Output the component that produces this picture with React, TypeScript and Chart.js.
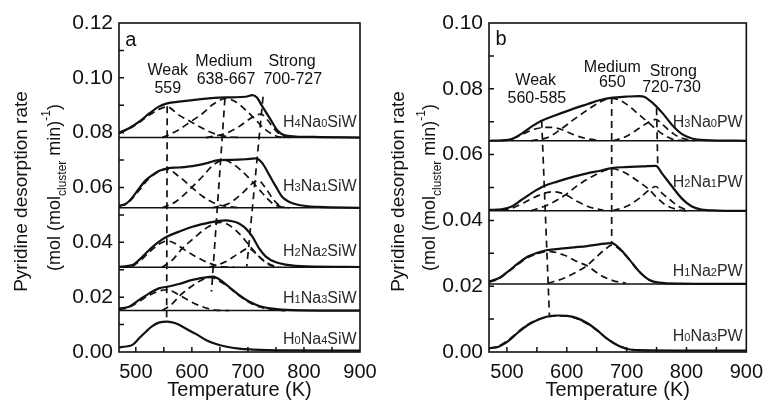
import React, { useEffect, useRef } from "react";
import { Chart, registerables } from "chart.js";

Chart.register(...registerables);

type Pt = [number, number];

const X_MIN = 470;
const X_MAX = 900;
const FONT = '"Liberation Sans", Arial, Helvetica, sans-serif';
const INK = "#111111";

// ---------------- Panel a : HxNa(4-x)SiW ----------------
const aYMax = 0.12;
const aSeparators = [0.0782, 0.0526, 0.0309, 0.0151];

const aH4Na0: Pt[] = [[470,0.0800],[488,0.0816],[506,0.0840],[524,0.0870],[541,0.0895],[556,0.0907],[577,0.0913],[601,0.0919],[625,0.0924],[648,0.0928],[672,0.0929],[696,0.0931],[708,0.0937],[716,0.0928],[726,0.0895],[741,0.0846],[752,0.0810],[764,0.0791],[785,0.0786],[830,0.0784],[900,0.0782]];
const aH4Weak: Pt[] = [[470,0.0798],[488,0.0814],[506,0.0837],[524,0.0864],[541,0.0885],[556,0.0894],[577,0.0864],[598,0.0840],[619,0.0816],[642,0.0795],[666,0.0785],[690,0.0782]];
const aH4Med: Pt[] = [[547,0.0782],[571,0.0804],[598,0.0840],[619,0.0870],[636,0.0901],[654,0.0922],[660,0.0925],[678,0.0913],[696,0.0883],[714,0.0846],[732,0.0810],[750,0.0788],[765,0.0782]];
const aH4Strong: Pt[] = [[625,0.0782],[660,0.0797],[684,0.0822],[708,0.0856],[723,0.0868],[735,0.0846],[746,0.0816],[761,0.0788],[775,0.0782]];

const aH3Na1: Pt[] = [[470,0.0534],[482,0.0540],[494,0.0564],[506,0.0597],[518,0.0627],[530,0.0646],[541,0.0660],[556,0.0670],[577,0.0673],[601,0.0678],[625,0.0688],[648,0.0700],[672,0.0701],[696,0.0703],[714,0.0706],[726,0.0688],[738,0.0646],[750,0.0603],[761,0.0566],[773,0.0548],[791,0.0536],[827,0.0529],[900,0.0526]];
const aH3Weak: Pt[] = [[470,0.0530],[488,0.0548],[506,0.0590],[524,0.0634],[541,0.0658],[556,0.0667],[577,0.0640],[598,0.0604],[619,0.0568],[642,0.0541],[666,0.0530],[690,0.0526]];
const aH3Med: Pt[] = [[547,0.0526],[571,0.0548],[598,0.0597],[619,0.0640],[636,0.0678],[651,0.0698],[657,0.0700],[672,0.0688],[690,0.0658],[708,0.0621],[726,0.0579],[744,0.0542],[761,0.0529],[773,0.0526]];
const aH3Strong: Pt[] = [[636,0.0526],[666,0.0542],[690,0.0579],[708,0.0615],[719,0.0625],[732,0.0597],[744,0.0560],[755,0.0536],[767,0.0526]];

const aH2Na2: Pt[] = [[470,0.0311],[494,0.0317],[506,0.0336],[518,0.0360],[530,0.0384],[541,0.0402],[556,0.0421],[577,0.0439],[601,0.0457],[625,0.0469],[648,0.0478],[660,0.0480],[672,0.0477],[684,0.0469],[696,0.0451],[708,0.0421],[720,0.0378],[732,0.0348],[750,0.0327],[767,0.0319],[803,0.0312],[900,0.0310]];
const aH2Weak: Pt[] = [[494,0.0312],[506,0.0330],[518,0.0352],[530,0.0375],[541,0.0393],[556,0.0405],[570,0.0396],[583,0.0378],[607,0.0348],[631,0.0324],[654,0.0311],[676,0.0309]];
const aH2Med: Pt[] = [[547,0.0309],[565,0.0335],[583,0.0378],[607,0.0421],[625,0.0451],[642,0.0469],[651,0.0473],[666,0.0463],[684,0.0433],[702,0.0390],[720,0.0348],[738,0.0321],[755,0.0310]];
const aH2Strong: Pt[] = [[631,0.0309],[660,0.0329],[684,0.0360],[701,0.0378],[714,0.0360],[726,0.0336],[738,0.0318],[750,0.0310]];

const aH1Na3: Pt[] = [[470,0.0159],[488,0.0165],[506,0.0190],[524,0.0214],[541,0.0232],[556,0.0238],[577,0.0248],[601,0.0263],[625,0.0272],[636,0.0275],[645,0.0270],[666,0.0238],[684,0.0208],[702,0.0184],[720,0.0168],[744,0.0158],[779,0.0153],[900,0.0151]];
const aH1Weak: Pt[] = [[470,0.0155],[488,0.0163],[506,0.0185],[524,0.0207],[541,0.0222],[556,0.0227],[577,0.0208],[598,0.0184],[619,0.0165],[642,0.0153],[666,0.0151]];
const aH1Med: Pt[] = [[547,0.0151],[563,0.0172],[580,0.0208],[607,0.0250],[625,0.0269],[635,0.0272],[648,0.0260],[666,0.0236],[684,0.0206],[702,0.0181],[720,0.0165],[744,0.0155],[767,0.0151]];

const aH0Na4: Pt[] = [[470,0.0017],[482,0.0020],[494,0.0026],[506,0.0050],[518,0.0074],[530,0.0095],[541,0.0107],[556,0.0111],[571,0.0105],[589,0.0086],[607,0.0066],[625,0.0044],[643,0.0029],[660,0.0020],[684,0.0012],[708,0.0009],[767,0.0006],[900,0.0005]];

const aWeakLine: Pt[] = [[556,0.0896],[555,0.0111]];
const aMedLine: Pt[] = [[659,0.0925],[635,0.0220]];
const aStrongLine: Pt[] = [[727,0.0931],[698,0.0312]];

const aNotes: [string, number, number][] = [["Weak",557,0.1028],["559",557,0.0959],["Medium",657,0.1058],["638-667",661,0.0992],["Strong",779,0.1058],["700-727",780,0.0992]];
const aCurveLabels: [string, number][] = [["H4Na0SiW",0.0843],["H3Na1SiW",0.0609],["H2Na2SiW",0.0370],["H1Na3SiW",0.0199],["H0Na4SiW",0.0052]];
const aLetter: [string, number, number] = ["a", 491, 0.1138];

// ---------------- Panel b : HxNa(3-x)PW ----------------
const bYMax = 0.10;
const bSeparators = [0.0642, 0.0429, 0.0207];

const bH3Na0: Pt[] = [[470,0.0642],[491,0.0643],[508,0.0647],[524,0.0663],[541,0.0685],[557,0.0702],[579,0.0718],[606,0.0736],[634,0.0753],[656,0.0766],[677,0.0773],[699,0.0776],[721,0.0778],[729,0.0776],[743,0.0758],[760,0.0726],[776,0.0690],[792,0.0663],[809,0.0649],[831,0.0644],[900,0.0642]];
const bH3Weak: Pt[] = [[491,0.0642],[508,0.0648],[524,0.0660],[541,0.0674],[558,0.0682],[574,0.0683],[590,0.0677],[612,0.0660],[634,0.0648],[656,0.0643]];
const bH3Med: Pt[] = [[540,0.0642],[568,0.0652],[590,0.0677],[612,0.0707],[634,0.0735],[656,0.0760],[674,0.0771],[688,0.0766],[705,0.0746],[721,0.0721],[738,0.0695],[754,0.0670],[776,0.0647],[798,0.0642]];
const bH3Strong: Pt[] = [[677,0.0642],[699,0.0655],[721,0.0680],[738,0.0700],[749,0.0707],[759,0.0693],[770,0.0675],[781,0.0660],[798,0.0647],[814,0.0642]];

const bH2Na1: Pt[] = [[470,0.0432],[491,0.0434],[508,0.0442],[524,0.0462],[541,0.0483],[563,0.0505],[584,0.0518],[612,0.0533],[634,0.0543],[656,0.0551],[675,0.0559],[699,0.0562],[727,0.0564],[749,0.0566],[759,0.0543],[776,0.0503],[792,0.0467],[809,0.0442],[825,0.0433],[852,0.0430],[900,0.0429]];
const bH2Weak: Pt[] = [[491,0.0431],[508,0.0437],[524,0.0450],[541,0.0466],[562,0.0482],[579,0.0487],[598,0.0478],[617,0.0458],[639,0.0440],[661,0.0431]];
const bH2Med: Pt[] = [[540,0.0429],[568,0.0447],[598,0.0478],[617,0.0505],[639,0.0530],[661,0.0550],[675,0.0557],[694,0.0548],[716,0.0523],[738,0.0493],[749,0.0472],[765,0.0447],[787,0.0432],[800,0.0429]];
const bH2Strong: Pt[] = [[677,0.0430],[699,0.0442],[721,0.0467],[738,0.0493],[749,0.0503],[759,0.0483],[773,0.0462],[787,0.0442],[803,0.0430]];

const bH1Na2: Pt[] = [[470,0.0214],[486,0.0224],[502,0.0245],[519,0.0270],[535,0.0290],[552,0.0302],[568,0.0310],[590,0.0314],[612,0.0318],[634,0.0322],[656,0.0328],[675,0.0331],[688,0.0315],[705,0.0280],[721,0.0245],[738,0.0219],[754,0.0211],[790,0.0208],[900,0.0207]];
const bH1Weak: Pt[] = [[470,0.0212],[486,0.0222],[502,0.0243],[519,0.0267],[535,0.0287],[552,0.0299],[568,0.0306],[595,0.0295],[617,0.0275],[634,0.0262],[656,0.0234],[677,0.0217],[699,0.0209]];
const bH1Med: Pt[] = [[568,0.0209],[595,0.0224],[617,0.0244],[634,0.0263],[650,0.0290],[666,0.0315],[675,0.0325],[688,0.0312],[705,0.0280],[721,0.0244],[738,0.0219],[754,0.0209]];

const bH0Na3: Pt[] = [[470,0.0012],[486,0.0016],[502,0.0033],[519,0.0060],[535,0.0082],[552,0.0098],[568,0.0108],[584,0.0111],[601,0.0110],[617,0.0103],[634,0.0088],[650,0.0067],[666,0.0042],[683,0.0022],[699,0.0010],[721,0.0006],[900,0.0004]];
const bH0Fit: Pt[] = [[470,0.0010],[486,0.0018],[502,0.0036],[519,0.0062],[535,0.0084],[552,0.0099],[568,0.0107],[584,0.0110],[601,0.0109],[617,0.0101],[634,0.0086],[650,0.0066],[666,0.0043],[683,0.0023],[699,0.0011],[721,0.0005],[740,0.0004]];

const bWeakLine: Pt[] = [[558,0.0703],[571,0.0110]];
const bMedLine: Pt[] = [[675,0.0775],[675,0.0328]];
const bStrongLine: Pt[] = [[750,0.0741],[752,0.0566]];

const bNotes: [string, number, number][] = [["Weak",548,0.0824],["560-585",550,0.0769],["Medium",676,0.0863],["650",676,0.0818],["Strong",778,0.0851],["720-730",775,0.0803]];
const bCurveLabels: [string, number][] = [["H3Na0PW",0.0702],["H2Na1PW",0.0518],["H1Na2PW",0.0249],["H0Na3PW",0.0050]];
const bLetter: [string, number, number] = ["b", 490, 0.0951];

const LABEL_X = 894;

interface PanelCfg {
  yMax: number;
  seps: number[];
  solids: Pt[][];
  comps: Pt[][];
  vlines: Pt[][];
  notes: [string, number, number][];
  labels: [string, number][];
  letter: [string, number, number];
  axisWidth: number;
  padRight: number;
  titleX: [number, number];
}

const panelA: PanelCfg = {
  yMax: aYMax,
  seps: aSeparators,
  solids: [aH4Na0, aH3Na1, aH2Na2, aH1Na3, aH0Na4],
  comps: [aH4Weak, aH4Med, aH4Strong, aH3Weak, aH3Med, aH3Strong, aH2Weak, aH2Med, aH2Strong, aH1Weak, aH1Med],
  vlines: [aWeakLine, aMedLine, aStrongLine],
  notes: aNotes,
  labels: aCurveLabels,
  letter: aLetter,
  axisWidth: 119,
  padRight: 25,
  titleX: [22, 55],
};

const panelB: PanelCfg = {
  yMax: bYMax,
  seps: bSeparators,
  solids: [bH3Na0, bH2Na1, bH1Na2, bH0Na3],
  comps: [bH3Weak, bH3Med, bH3Strong, bH2Weak, bH2Med, bH2Strong, bH1Weak, bH1Med, bH0Fit],
  vlines: [bWeakLine, bMedLine, bStrongLine],
  notes: bNotes,
  labels: bCurveLabels,
  letter: bLetter,
  axisWidth: 104,
  padRight: 19,
  titleX: [14, 45],
};

function toXY(points: Pt[]) {
  return points.map(([x, y]) => ({ x, y }));
}

function curveDs(points: Pt[], width: number, dash: number[]) {
  return {
    data: toXY(points),
    borderColor: INK,
    borderWidth: width,
    borderDash: dash,
    pointRadius: 0,
    fill: false,
    cubicInterpolationMode: "monotone",
  };
}

function lineDs(points: Pt[], width: number, dash: number[]) {
  return {
    data: toXY(points),
    borderColor: INK,
    borderWidth: width,
    borderDash: dash,
    pointRadius: 0,
    fill: false,
    tension: 0,
  };
}

function drawFormula(ctx: CanvasRenderingContext2D, text: string, xRight: number, yMid: number) {
  const runs = text.match(/\d+|\D+/g) || [];
  const big = `16px ${FONT}`;
  const small = `11px ${FONT}`;
  let total = 0;
  const widths = runs.map((r) => {
    ctx.font = /\d/.test(r) ? small : big;
    const w = ctx.measureText(r).width;
    total += w;
    return w;
  });
  let x = xRight - total;
  const base = yMid + 5.8;
  ctx.textAlign = "left";
  ctx.textBaseline = "alphabetic";
  ctx.fillStyle = "#2a2a2a";
  runs.forEach((r, i) => {
    ctx.font = /\d/.test(r) ? small : big;
    ctx.fillText(r, x, base);
    x += widths[i];
  });
}

function drawYTitle(ctx: CanvasRenderingContext2D, x1: number, x2: number, cy: number) {
  ctx.save();
  ctx.fillStyle = INK;
  ctx.translate(x1, cy + 4);
  ctx.rotate(-Math.PI / 2);
  ctx.font = `19px ${FONT}`;
  ctx.textAlign = "center";
  ctx.textBaseline = "middle";
  ctx.fillText("Pyridine desorption rate", 0, 0);
  ctx.restore();

  const runs: [string, string][] = [["(mol (mol", "n"], ["cluster", "sub"], [" min)", "n"], ["-1", "sup"], [")", "n"]];
  const fontOf = (k: string) => (k === "n" ? `18px ${FONT}` : `12px ${FONT}`);
  ctx.save();
  ctx.fillStyle = INK;
  ctx.translate(x2, cy);
  ctx.rotate(-Math.PI / 2);
  ctx.textAlign = "left";
  ctx.textBaseline = "middle";
  let total = 0;
  const widths = runs.map(([t, k]) => {
    ctx.font = fontOf(k);
    const w = ctx.measureText(t).width;
    total += w;
    return w;
  });
  let x = -total / 2;
  runs.forEach(([t, k], i) => {
    ctx.font = fontOf(k);
    const dy = k === "sub" ? 8 : k === "sup" ? -8 : 0;
    ctx.fillText(t, x, dy);
    x += widths[i];
  });
  ctx.restore();
}

function decoPlugin(p: PanelCfg) {
  return {
    id: "deco",
    afterDatasetsDraw(chart: any) {
      const { ctx, chartArea: a } = chart;
      const xs = chart.scales.x;
      const ys = chart.scales.y;
      ctx.save();
      ctx.strokeStyle = INK;
      ctx.lineWidth = 1.5;
      ctx.setLineDash([]);
      ctx.beginPath();
      ys.ticks.forEach((t: any) => {
        const y = ys.getPixelForValue(t.value);
        if (y > a.top + 2 && y < a.bottom - 2) {
          ctx.moveTo(a.left, y);
          ctx.lineTo(a.left + 5, y);
        }
      });
      xs.ticks.forEach((t: any) => {
        const x = xs.getPixelForValue(t.value);
        if (x > a.left + 2 && x < a.right - 2) {
          ctx.moveTo(x, a.bottom);
          ctx.lineTo(x, a.bottom - 5);
        }
      });
      ctx.stroke();
      ctx.lineWidth = 1.6;
      ctx.strokeRect(a.left, a.top, a.right - a.left, a.bottom - a.top);

      // annotations
      ctx.fillStyle = INK;
      ctx.textAlign = "center";
      ctx.textBaseline = "middle";
      ctx.font = `16px ${FONT}`;
      p.notes.forEach(([t, xv, yv]) => {
        ctx.fillText(t, xs.getPixelForValue(xv), ys.getPixelForValue(yv));
      });
      ctx.font = `20px ${FONT}`;
      ctx.fillText(p.letter[0], xs.getPixelForValue(p.letter[1]), ys.getPixelForValue(p.letter[2]));

      p.labels.forEach(([t, yv]) => {
        drawFormula(ctx, t, xs.getPixelForValue(LABEL_X), ys.getPixelForValue(yv));
      });

      drawYTitle(ctx, p.titleX[0], p.titleX[1], (a.top + a.bottom) / 2);
      ctx.restore();
    },
  };
}

function buildChart(canvas: HTMLCanvasElement, p: PanelCfg): Chart {
  const datasets: any[] = [];
  p.seps.forEach((v) => datasets.push(lineDs([[X_MIN, v], [X_MAX, v]], 1.5, [])));
  p.comps.forEach((c) => datasets.push(curveDs(c, 1.7, [7, 4.5])));
  p.vlines.forEach((c) => datasets.push(lineDs(c, 1.7, [7, 5])));
  p.solids.forEach((c) => datasets.push(curveDs(c, 2.2, [])));

  return new Chart(canvas, {
    type: "line",
    data: { datasets },
    options: {
      animation: false,
      responsive: false,
      maintainAspectRatio: false,
      layout: { padding: { left: 0, top: 23, right: p.padRight, bottom: 0 } },
      plugins: {
        legend: { display: false },
        tooltip: { enabled: false },
        title: { display: false },
      },
      scales: {
        x: {
          type: "linear",
          min: X_MIN,
          max: X_MAX,
          afterFit: (s: any) => {
            s.height = 49;
          },
          border: { display: false },
          grid: { display: false, drawTicks: false },
          ticks: {
            stepSize: 50,
            includeBounds: false,
            autoSkip: false,
            maxRotation: 0,
            padding: 8,
            color: INK,
            font: { family: FONT, size: 20 },
            callback: (v: any) => (Math.round(v) % 100 === 0 ? String(Math.round(v)) : ""),
          },
          title: {
            display: true,
            text: "Temperature (K)",
            color: INK,
            font: { family: FONT, size: 20, lineHeight: 1 },
            padding: { top: 0, bottom: 1 },
          },
        },
        y: {
          type: "linear",
          min: 0,
          max: p.yMax,
          afterFit: (s: any) => {
            s.width = p.axisWidth;
          },
          border: { display: false },
          grid: { display: false, drawTicks: false },
          ticks: {
            stepSize: 0.01,
            autoSkip: false,
            padding: 6,
            color: INK,
            font: { family: FONT, size: 21 },
            callback: (v: any) => {
              const k = Math.round(Number(v) * 100);
              return k % 2 === 0 ? (k / 100).toFixed(2) : "";
            },
          },
        },
      },
    },
    plugins: [decoPlugin(p)],
  } as any);
}

export default function App() {
  const refA = useRef<HTMLCanvasElement | null>(null);
  const refB = useRef<HTMLCanvasElement | null>(null);

  useEffect(() => {
    const charts: Chart[] = [];
    if (refA.current) charts.push(buildChart(refA.current, panelA));
    if (refB.current) charts.push(buildChart(refB.current, panelB));
    return () => charts.forEach((c) => c.destroy());
  }, []);

  return (
    <div style={{ position: "absolute", left: 0, top: 0, width: 771, height: 401, background: "#fff", overflow: "hidden" }}>
      <canvas ref={refA} width={385} height={401} style={{ position: "absolute", left: 0, top: 0, width: 385, height: 401 }} />
      <canvas ref={refB} width={386} height={401} style={{ position: "absolute", left: 385, top: 0, width: 386, height: 401 }} />
    </div>
  );
}
